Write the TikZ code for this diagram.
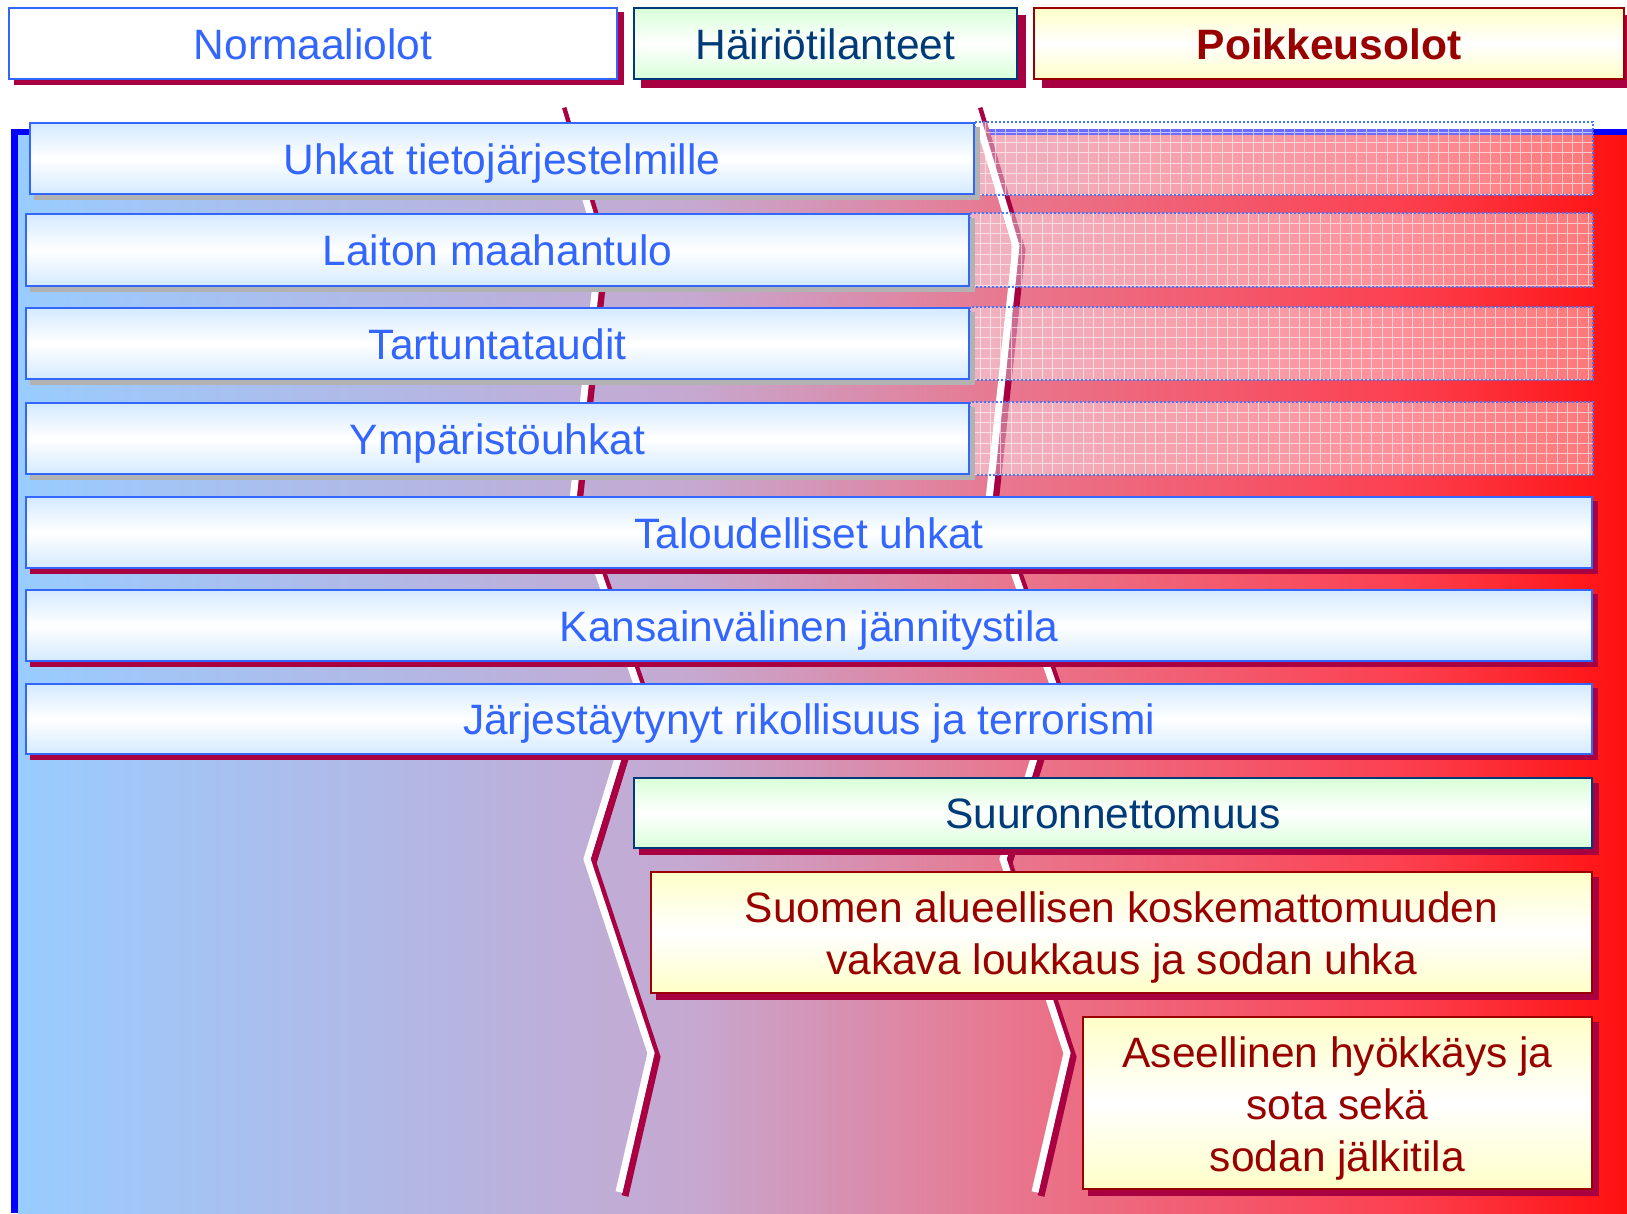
\documentclass[tikz,border=0pt]{standalone}
\usepackage{fontspec}
\setmainfont{Liberation Sans}
\definecolor{crim}{RGB}{168,0,64}
\definecolor{tblue}{RGB}{51,102,255}
\definecolor{lblue}{RGB}{212,234,255}
\definecolor{navy}{RGB}{0,58,120}
\definecolor{lgreen}{RGB}{216,255,216}
\definecolor{dred}{RGB}{153,0,0}
\definecolor{lyellow}{RGB}{255,255,200}
\definecolor{gshadow}{RGB}{178,178,178}
\definecolor{frameblue}{RGB}{0,0,255}
\definecolor{hatchblue}{RGB}{68,119,255}
\definecolor{bgA}{RGB}{153,204,255}
\definecolor{bgB}{RGB}{198,168,208}
\definecolor{bgC}{RGB}{232,120,144}
\definecolor{bgD}{RGB}{252,64,80}
\definecolor{bgE}{RGB}{255,16,16}
\pgfdeclarehorizontalshading{bgshade}{100bp}{color(0bp)=(bgA); color(25bp)=(bgA); color(46bp)=(bgB); color(55.5bp)=(bgC); color(68bp)=(bgD); color(75bp)=(bgE); color(100bp)=(bgE)}
\pgfdeclarelayer{bottom}
\pgfdeclarelayer{shadow}
\pgfsetlayers{bottom,shadow,main}
\tikzset{
  boxbase/.style={rectangle, inner sep=0pt, font=\fontsize{42.5}{52}\selectfont, text height=31pt, text depth=0pt},
  whitebox/.style={boxbase, draw=tblue, line width=2pt, fill=white, text=tblue},
  bluebox/.style={boxbase, draw=tblue, line width=2pt, top color=lblue, bottom color=lblue, middle color=white, text=tblue},
  greenbox/.style={boxbase, draw=navy, line width=2.2pt, top color=lgreen, bottom color=lgreen, middle color=white, text=navy},
  yellowbox/.style={boxbase, draw=dred, line width=1.8pt, top color=lyellow, bottom color=lyellow, middle color=white, text=dred},
  multitext/.style={align=center, inner sep=0pt, font=\fontsize{42.5}{52}\selectfont, text=dred},
  zzwhite/.style={draw=white, line width=7pt},
  zzshade/.style={draw=crim, line width=7pt},
  hatchfill/.style={fill=white, fill opacity=0.42},
  hatchgrid/.style={draw=white, line width=1pt, draw opacity=0.6},
  hatchborder/.style={draw=hatchblue, line width=1.6pt, dash pattern=on 2pt off 2pt}
}
\begin{document}
\begin{tikzpicture}[x=1pt,y=-1pt]
\useasboundingbox (0,0) rectangle (1627,1213);

% header boxes
\node[whitebox, minimum width=608pt, minimum height=71pt] (h1) at (313,43.5) {Normaaliolot};
\node[greenbox, minimum width=383pt, minimum height=71pt] (h2) at (825.5,43.5) {Häiriötilanteet};
\node[yellowbox, minimum width=590pt, minimum height=71pt, font=\fontsize{42.5}{52}\selectfont\bfseries] (h3) at (1329,43.5) {Poikkeusolot};

% threat boxes
\node[bluebox, minimum width=944pt, minimum height=71pt] (b1) at (502,158.5) {Uhkat tietojärjestelmille};
\node[bluebox, minimum width=943pt, minimum height=72pt] (b2) at (497.5,250) {Laiton maahantulo};
\node[bluebox, minimum width=943pt, minimum height=71pt] (b3) at (497.5,343.5) {Tartuntataudit};
\node[bluebox, minimum width=943pt, minimum height=71pt] (b4) at (497.5,438.5) {Ympäristöuhkat};
\node[bluebox, minimum width=1566pt, minimum height=71pt] (b5) at (809,532.5) {Taloudelliset uhkat};
\node[bluebox, minimum width=1566pt, minimum height=71pt] (b6) at (809,625.5) {Kansainvälinen jännitystila};
\node[bluebox, minimum width=1566pt, minimum height=70pt] (b7) at (809,719) {Järjestäytynyt rikollisuus ja terrorismi};
\node[greenbox, minimum width=958pt, minimum height=70pt] (b8) at (1113,813) {Suuronnettomuus};
\node[yellowbox, minimum width=941pt, minimum height=121pt] (b9) at (1121.5,932.5) {};
\node[multitext] (t9) at (1121.5,937.4) {Suomen alueellisen koskemattomuuden\\vakava loukkaus ja sodan uhka};
\node[yellowbox, minimum width=509pt, minimum height=172pt] (b10) at (1337.5,1103) {};
\node[multitext] (t10) at (1337.5,1108.4) {Aseellinen hyökkäys ja\\sota sekä\\sodan jälkitila};

% shadows
\begin{pgfonlayer}{shadow}
\foreach \n/\dx/\dy/\c in {h1/6/5/crim, h2/8/8/crim, h3/9/8/crim,
  b1/5/5/gshadow, b2/5/5/gshadow, b3/5/5/gshadow, b4/5/5/gshadow,
  b5/5/5/crim, b6/5/5/crim, b7/5/5/crim, b8/6/6/crim, b9/6/6/crim, b10/6/6/crim}{
  \fill[\c] ([shift={(\dx,\dy)}]\n.south west) rectangle ([shift={(\dx,\dy)}]\n.north east);
}
\end{pgfonlayer}

% background, zigzag lines, hatched areas
\begin{pgfonlayer}{bottom}
\fill[shading=bgshade] (18,135) rectangle (1627,1213);
\fill[frameblue] (11,129) rectangle (1627,135);
\fill[frameblue] (11,129) rectangle (18,1213);
\foreach \d in {0,416}{
  \draw[zzshade, shift={(\d+6,4)}] (557,104) -- (600,246) -- (573,500) -- (639,690) -- (587,859) -- (651,1053) -- (619,1192);
}
\foreach \d in {0,416}{
  \draw[zzwhite, shift={(\d,0)}] (557,104) -- (600,246) -- (573,500) -- (639,690) -- (587,859) -- (651,1053) -- (619,1192);
}
\foreach \xa/\ya/\yb in {975/122/195, 970/213/287, 970/307/380, 970/402/475}{
  \fill[hatchfill] (\xa,\ya) rectangle (1593,\yb);
  \begin{scope}
    \clip (\xa,\ya) rectangle (1593,\yb);
    \draw[hatchgrid] \foreach \k in {1,...,62}{ ({\xa+\k*10.3},\ya) -- ({\xa+\k*10.3},\yb) }
                     \foreach \k in {1,...,7}{ (\xa,{\ya+\k*10.3}) -- (1593,{\ya+\k*10.3}) };
  \end{scope}
  \draw[hatchborder] (\xa,\ya) rectangle (1593,\yb);
}
\end{pgfonlayer}
\end{tikzpicture}
\end{document}
